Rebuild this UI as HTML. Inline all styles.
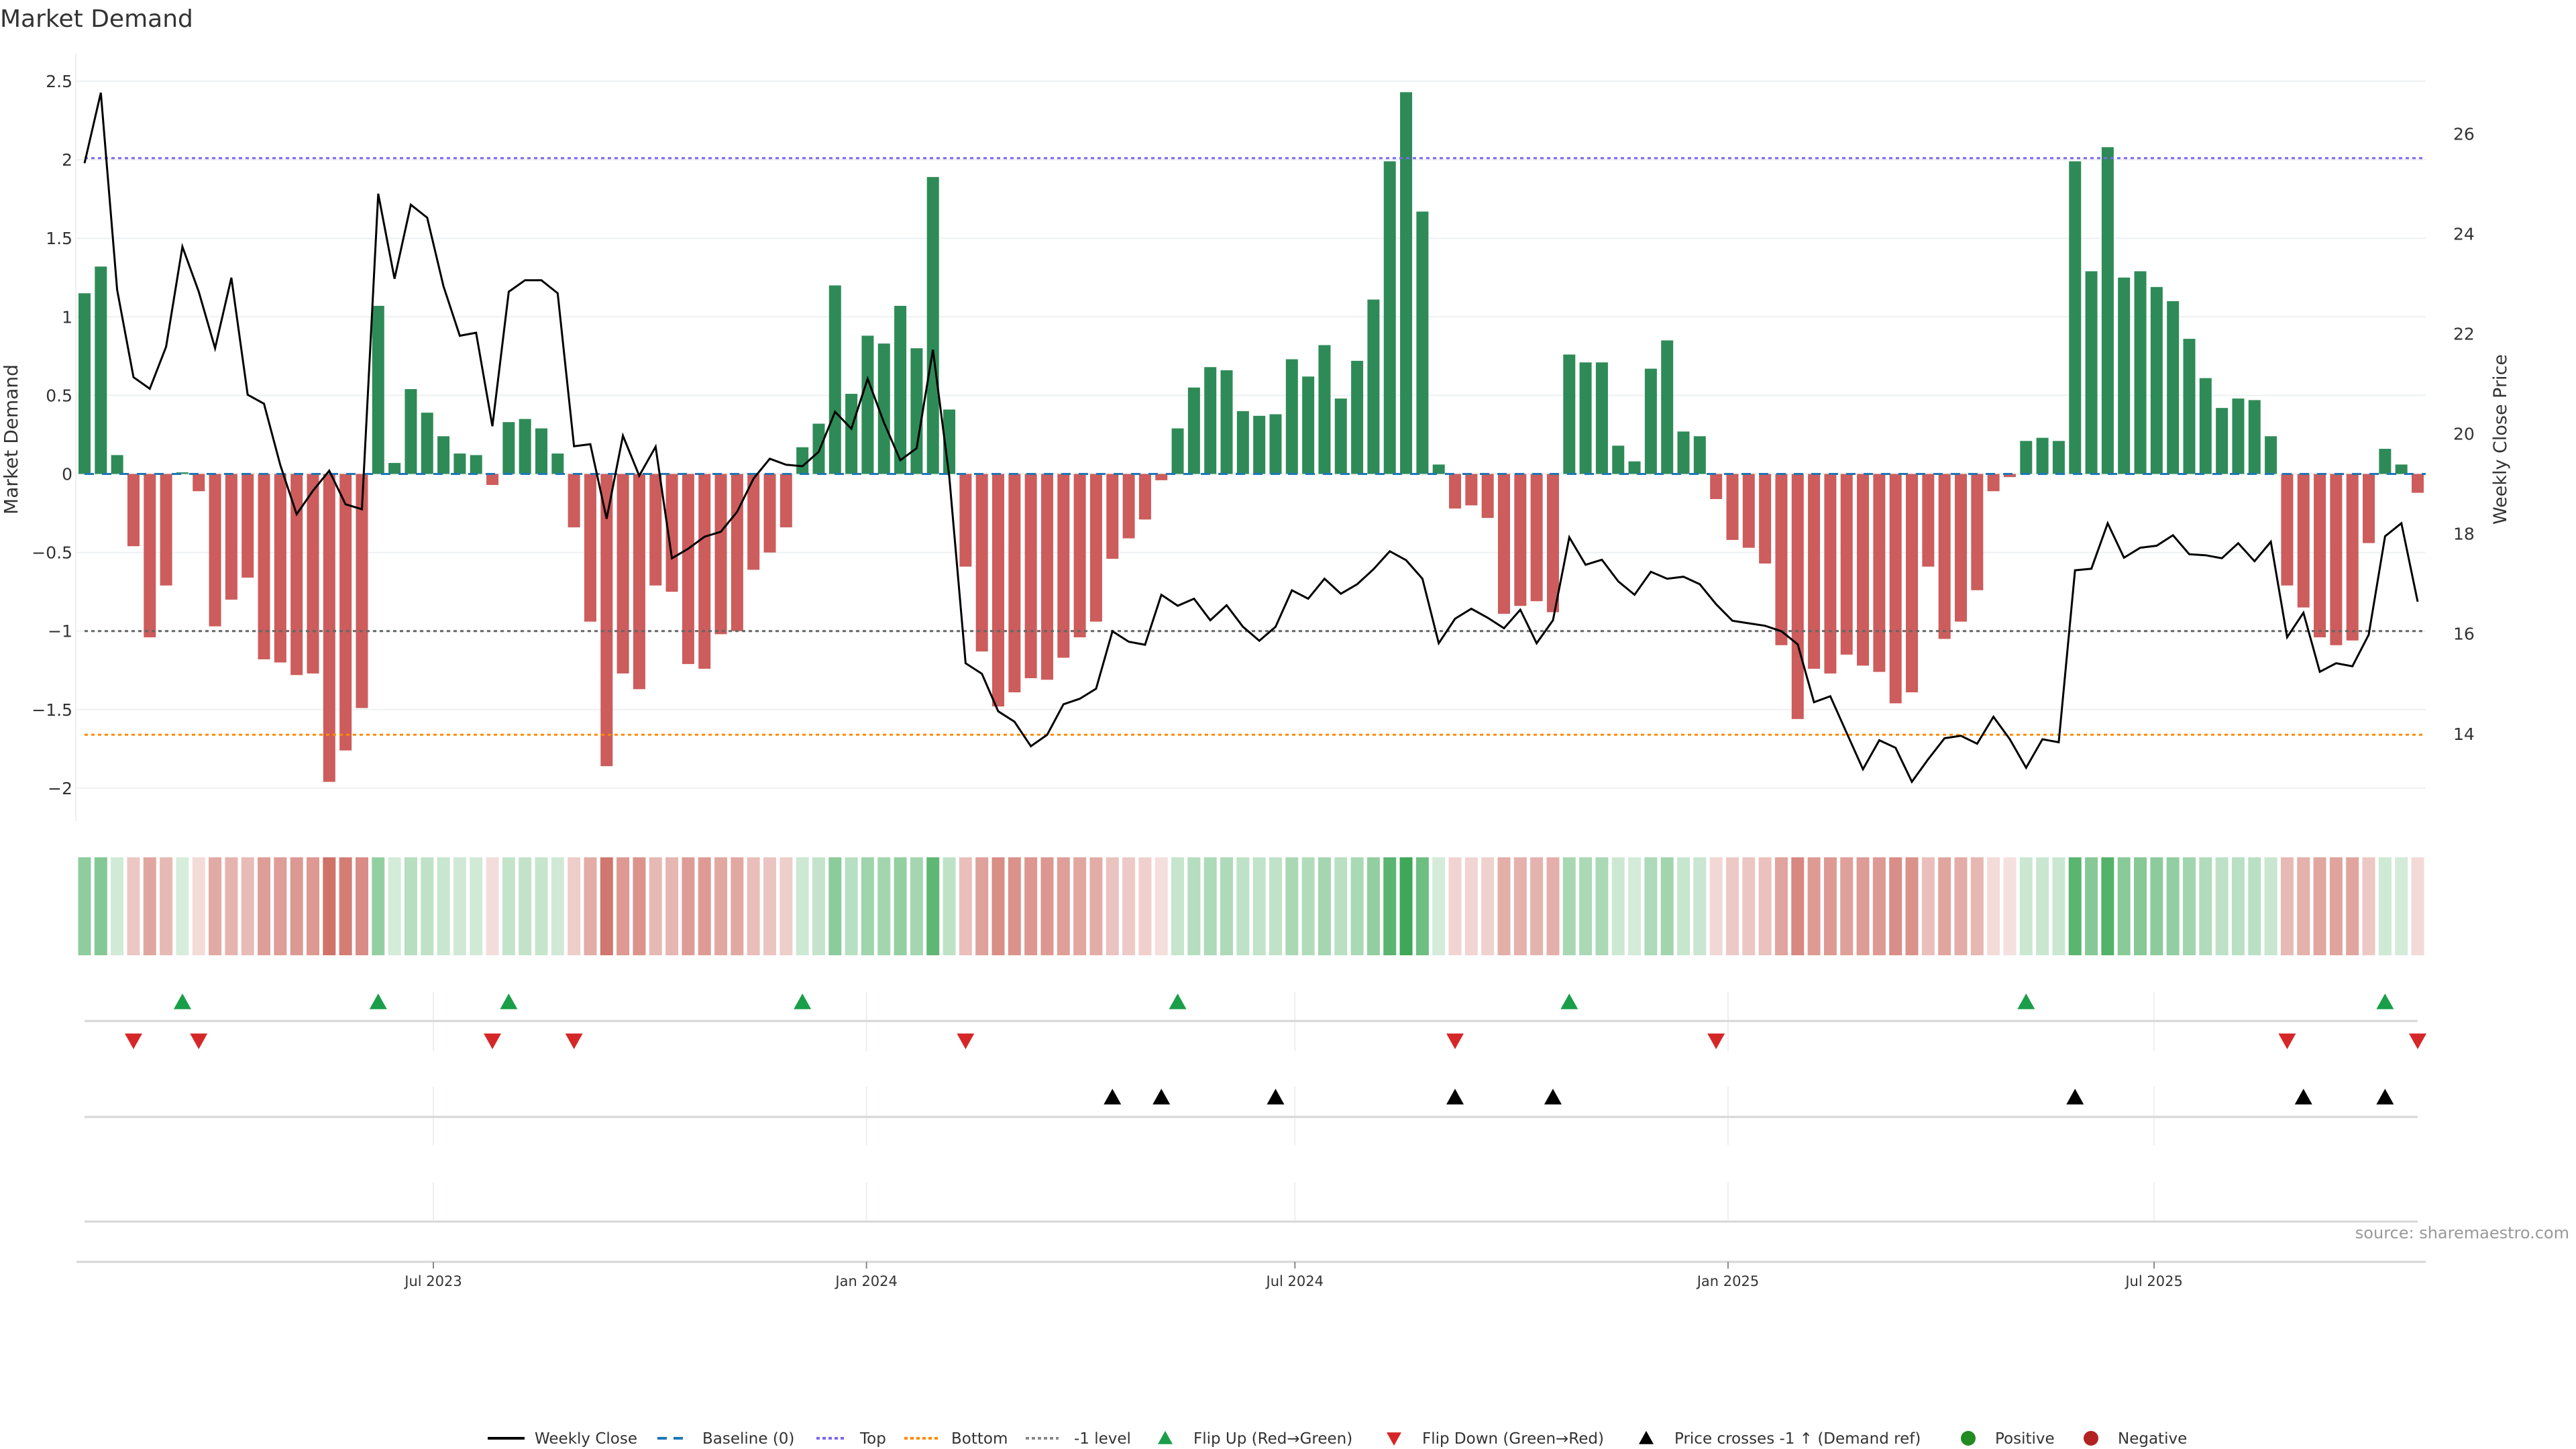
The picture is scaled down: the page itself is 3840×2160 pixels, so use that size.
<!DOCTYPE html>
<html><head><meta charset="utf-8"><title>Market Demand</title>
<style>
html,body{margin:0;padding:0;background:#fff;}
svg{display:block;font-family:"DejaVu Sans","Liberation Sans",sans-serif;}
</style></head>
<body>
<svg id="chart" width="3840" height="2160" viewBox="0 0 3840 2160" xmlns="http://www.w3.org/2000/svg">
<text x="0" y="40" font-size="36" fill="#333">Market Demand</text>
<text transform="translate(26,655) rotate(-90)" text-anchor="middle" font-size="28" fill="#333">Market Demand</text>
<text transform="translate(3736,655) rotate(-90)" text-anchor="middle" font-size="27" fill="#333">Weekly Close Price</text>
<text x="3830" y="1846" text-anchor="end" font-size="24" fill="#999">source: sharemaestro.com</text>
<g id="g-main"></g>
<g id="g-legend"></g>
</svg>
<script>
const demand = [1.15,1.32,0.12,-0.46,-1.04,-0.71,0.01,-0.11,-0.97,-0.80,-0.66,-1.18,-1.20,-1.28,-1.27,-1.96,-1.76,-1.49,1.07,0.07,0.54,0.39,0.24,0.13,0.12,-0.07,0.33,0.35,0.29,0.13,-0.34,-0.94,-1.86,-1.27,-1.37,-0.71,-0.75,-1.21,-1.24,-1.02,-1.00,-0.61,-0.50,-0.34,0.17,0.32,1.20,0.51,0.88,
0.83,1.07,0.80,1.89,0.41,-0.59,-1.13,-1.48,-1.39,-1.30,-1.31,-1.17,-1.04,-0.94,-0.54,-0.41,-0.29,-0.04,0.29,0.55,0.68,0.66,0.40,0.37,0.38,0.73,0.62,0.82,0.48,0.72,1.11,1.99,2.43,1.67,0.06,-0.22,-0.20,-0.28,-0.89,-0.84,-0.81,-0.88,0.76,0.71,0.71,0.18,0.08,0.67,0.85,0.27,0.24,
-0.16,-0.42,-0.47,-0.57,-1.09,-1.56,-1.24,-1.27,-1.15,-1.22,-1.26,-1.46,-1.39,-0.59,-1.05,-0.94,-0.74,-0.11,-0.02,0.21,0.23,0.21,1.99,1.29,2.08,1.25,1.29,1.19,1.10,0.86,0.61,0.42,0.48,0.47,0.24,-0.71,-0.85,-1.04,-1.09,-1.06,-0.44,0.16,0.06,-0.12];
const price = [25.41,26.82,22.88,21.13,20.90,21.74,23.74,22.84,21.71,23.12,20.78,20.60,19.37,18.39,18.86,19.26,18.59,18.49,24.80,23.10,24.58,24.32,22.95,21.96,22.02,20.15,22.84,23.07,23.07,22.81,19.75,19.79,18.30,19.96,19.16,19.74,17.51,17.70,17.94,18.04,18.44,19.10,19.50,19.38,19.35,19.64,20.44,20.10,21.10,
20.22,19.47,19.71,21.68,19.15,15.41,15.20,14.45,14.24,13.75,13.98,14.59,14.70,14.90,16.05,15.84,15.78,16.78,16.56,16.70,16.27,16.57,16.14,15.86,16.14,16.87,16.70,17.10,16.80,16.99,17.29,17.65,17.47,17.10,15.81,16.30,16.50,16.32,16.11,16.48,15.81,16.27,17.93,17.38,17.48,17.05,16.78,17.24,17.10,17.14,16.99,
16.59,16.26,16.21,16.16,16.05,15.79,14.63,14.75,14.02,13.29,13.87,13.72,13.04,13.49,13.91,13.96,13.80,14.34,13.89,13.32,13.89,13.83,17.27,17.30,18.21,17.52,17.72,17.76,17.97,17.59,17.57,17.51,17.81,17.45,17.84,15.93,16.42,15.24,15.41,15.35,15.98,17.95,18.21,16.64];
const demandTicks = [2.5,2,1.5,1,0.5,0,-0.5,-1,-1.5,-2];
const demandTickLabels = ["2.5","2","1.5","1","0.5","0","\u22120.5","\u22121","\u22121.5","\u22122"];
const priceTicks = [14,16,18,20,22,24,26];
const dateTickLabels = ["Jul 2023","Jan 2024","Jul 2024","Jan 2025","Jul 2025"];
const dateTickDays = [0,184,366,550,731];
const topLevel = 2.01;
const bottomLevel = -1.66;
const minusOneLevel = -1;
const priceRef = 16.0;

const NS="http://www.w3.org/2000/svg";
const root=document.getElementById('g-main');
function mk(tag,attrs,parent){const e=document.createElementNS(NS,tag);for(const k in attrs)e.setAttribute(k,attrs[k]);(parent||root).appendChild(e);return e;}
const X0=126, X1=3604;
const xIdx=i=>X0+i*(X1-X0)/(demand.length-1);
const yD=v=>706.5-234.2*v;
const yP=p=>1093.8-74.54*(p-14);
const xDay=d=>646+d*3.509;

demandTicks.forEach((t,k)=>{
  const g=mk('line',{x1:114,x2:3616,y1:yD(t),y2:yD(t),stroke:'#edf0f2','stroke-width':2});
  
  
  const tx=mk('text',{x:108,y:yD(t)+9,'text-anchor':'end','font-size':25,fill:'#333'});
  tx.textContent=demandTickLabels[k];
  
  
});
priceTicks.forEach(t=>{
  const tx=mk('text',{x:3657,y:yP(t)+9,'font-size':25,fill:'#333'});
  tx.textContent=String(t);
  
  
});
const spine=mk('line',{x1:113,x2:113,y1:80,y2:1224,stroke:'#eceff1','stroke-width':2});



const bw=18;
demand.forEach((v,i)=>{
  const y=Math.min(yD(v),yD(0)), h=Math.abs(yD(v)-yD(0));
  const r=mk('rect',{x:xIdx(i)-bw/2,y:y,width:bw,height:Math.max(h,0.5),fill:v>=0?'#2e8b57':'#cd5c5c'});
  
  
});
function refLine(v,color,dash,name){
  const l=mk('line',{x1:X0,x2:3616,y1:yD(v),y2:yD(v),stroke:color,'stroke-width':3,'stroke-dasharray':dash});
  
  
}
refLine(0,'#1f77b4','14 12','baseline-zero');
refLine(topLevel,'#7b68ee','5 5','top-level-line');
refLine(bottomLevel,'#ff8c00','5 5','bottom-level-line');
refLine(minusOneLevel,'#666','5 5','minus-one-level-line');

const pts=price.map((p,i)=>xIdx(i).toFixed(1)+','+yP(p).toFixed(1)).join(' ');
const pl=mk('polyline',{points:pts,fill:'none',stroke:'#000','stroke-width':3,'stroke-linejoin':'miter'});



function mix(c,t){return 'rgb('+c.map(x=>Math.round(255+(x-255)*t)).join(',')+')';}
demand.forEach((v,i)=>{
  const t=v>=0?0.2+0.8*Math.min(v/2.5,1):0.2+0.75*Math.min(-v/2,1);
  const c=v>=0?mix([58,166,84],t):mix([204,104,94],t);
  const r=mk('rect',{x:xIdx(i)-9.5,y:1278,width:19,height:146,fill:c});
  
  
});

[[1479,1567],[1620,1707],[1763,1819]].forEach(([a,b])=>{
  dateTickDays.forEach(d=>{
    const l=mk('line',{x1:xDay(d),x2:xDay(d),y1:a,y2:b,stroke:'#eceff1','stroke-width':2});
    
    
  });
});
[1522,1665,1821].forEach(y=>{
  const l=mk('line',{x1:126,x2:3604,y1:y,y2:y,stroke:'#d6d6d6','stroke-width':3});
  
  
});
const ax=mk('line',{x1:114,x2:3616,y1:1881,y2:1881,stroke:'#d6d6d6','stroke-width':3});


dateTickDays.forEach((d,k)=>{
  const tk=mk('line',{x1:xDay(d),x2:xDay(d),y1:1881,y2:1891,stroke:'#888','stroke-width':2});
  
  
  const tx=mk('text',{x:xDay(d),y:1917,'text-anchor':'middle','font-size':21,fill:'#333'});
  tx.textContent=dateTickLabels[k];
  
  
});

function tri(x,y,up,color,name){
  const s=13;
  const p=up?`${x},${y-s} ${x-s},${y+s*0.8} ${x+s},${y+s*0.8}`:`${x},${y+s} ${x-s},${y-s*0.8} ${x+s},${y-s*0.8}`;
  const e=mk('polygon',{points:p,fill:color});
  
  
}
for(let i=1;i<demand.length;i++){
  if(demand[i]>0&&demand[i-1]<=0) tri(xIdx(i),1494,true,'#1a9e4a','flip-up-marker');
  if(demand[i]<=0&&demand[i-1]>0) tri(xIdx(i),1551,false,'#d62728','flip-down-marker');
  if(price[i]>=priceRef&&price[i-1]<priceRef) tri(xIdx(i),1636,true,'#000','price-cross-marker');
}

const lg=document.getElementById('g-legend');
const LY=2144;
function ltext(x,s){const t=mk('text',{x:x,y:LY+8,'font-size':23,fill:'#333'},lg);t.textContent=s;}
function lline(x1,x2,c,w,dash,name){const l=mk('line',{x1:x1,x2:x2,y1:LY,y2:LY,stroke:c,'stroke-width':w,'stroke-dasharray':dash},lg);}
lline(727,782,'#000',4,'none','legend-weekly-close');ltext(797,'Weekly Close');
lline(980,1024,'#1f77b4',4,'14 10','legend-baseline');ltext(1047,'Baseline (0)');
lline(1217,1262,'#7b68ee',4,'5 4','legend-top');ltext(1282,'Top');
lline(1348,1398,'#ff8c00',4,'5 4','legend-bottom');ltext(1418,'Bottom');
lline(1529,1578,'#888',4,'5 4','legend-minus-one');ltext(1601,'-1 level');
function ltri(x,up,c,name){const s=11;const p=up?`${x},${LY-s} ${x-s},${LY+s*0.8} ${x+s},${LY+s*0.8}`:`${x},${LY+s} ${x-s},${LY-s*0.8} ${x+s},${LY-s*0.8}`;const e=mk('polygon',{points:p,fill:c},lg);}
ltri(1737,true,'#1a9e4a','legend-flip-up');ltext(1779,'Flip Up (Red\u2192Green)');
ltri(2078,false,'#d62728','legend-flip-down');ltext(2120,'Flip Down (Green\u2192Red)');
ltri(2454,true,'#000','legend-price-cross');ltext(2496,'Price crosses -1 \u2191 (Demand ref)');
function lcirc(x,c,name){const e=mk('circle',{cx:x,cy:LY,r:11,fill:c},lg);}
lcirc(2934,'#228b22','legend-positive');ltext(2974,'Positive');
lcirc(3117,'#b22222','legend-negative');ltext(3157,'Negative');
</script>
</body></html>
